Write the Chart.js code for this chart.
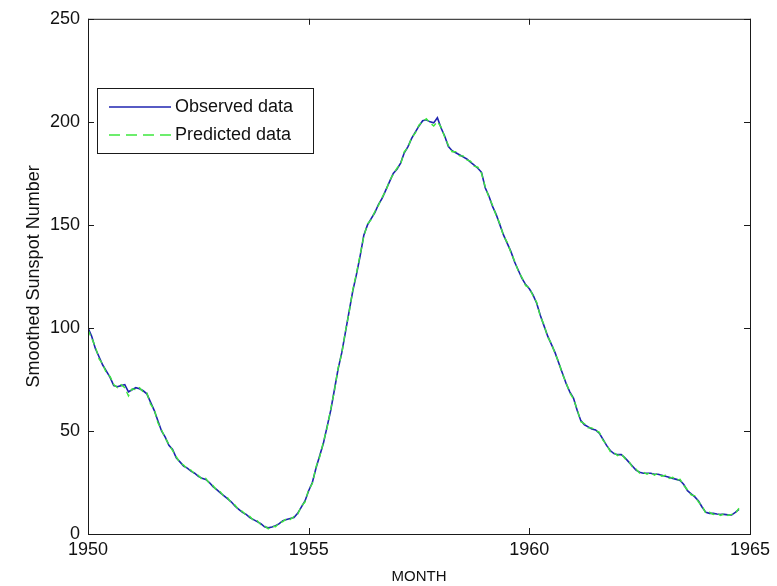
<!DOCTYPE html>
<html>
<head>
<meta charset="utf-8">
<script src="https://cdn.jsdelivr.net/npm/chart.js@4.4.1/dist/chart.umd.min.js"></script>
<style>
  html, body { margin: 0; padding: 0; background: #fff; }
  canvas { display: block; }
</style>
</head>
<body>
<canvas id="sunspotChart" width="777" height="586"></canvas>
<script>
// monthly smoothed sunspot numbers, Jan 1950 .. Oct 1964
const startYear = 1950;
const observed = [
  100, 96, 90, 86, 82, 79, 76, 72, 71.5, 72, 72.5, 69,
  70, 71, 70.5, 69.5, 68, 64, 60, 55, 50, 47, 43, 41,
  37, 35, 33, 32, 30.5, 29.5, 28, 27, 26.5, 25, 23, 21.5,
  20, 18.5, 17, 15.5, 13.5, 12, 10.5, 9.5, 8, 7, 6, 5,
  3.5, 3, 3.4, 4, 5, 6.5, 7, 7.5, 8, 10, 13, 16,
  21, 25, 32, 38, 44, 52, 60, 70, 80, 88, 98, 108,
  118, 126, 135, 145, 150, 153, 156, 160, 163, 167, 171, 175,
  177, 180, 185, 188, 192, 195, 198, 200.5, 201, 200, 199.5, 202,
  197, 193, 188, 186, 185, 184, 183, 182, 180.5, 179, 177.5, 175.5,
  168, 164, 159, 155, 150, 145, 141, 137, 132, 128, 124, 121,
  119, 116, 112, 106, 101, 96, 92, 88, 83, 78, 73, 69,
  66, 60, 55, 53, 52, 51, 50.5, 49, 46, 43, 40.5, 39,
  38.5, 38.5, 37, 35, 33, 31, 30, 29.5, 29.5, 29.5, 29, 29,
  28.5, 28, 27.5, 27, 26.5, 26, 24, 21, 19.5, 18, 16, 13,
  10.5, 10, 10, 9.7, 9.5, 9.5, 9.3, 9.2, 10.5, 12
];
const predicted = [
  99, 95, 91, 85, 82.5, 78, 76.5, 72.5, 71, 72.5, 71, 67,
  70.5, 70, 71, 69, 68.5, 63, 60.5, 54, 50.5, 46.5, 43.5, 40.5,
  37.5, 34.5, 33.5, 31.5, 31, 29, 28.5, 26.5, 27, 24.5, 23.5, 21,
  20.5, 18, 17.5, 15, 14, 11.5, 11, 9, 8.5, 6.5, 6.5, 4.5,
  4, 2.5, 3.8, 3.5, 5.5, 6, 7.5, 7, 8.5, 9.5, 13.5, 15.5,
  21.5, 24.5, 32.5, 37.5, 44.5, 51.5, 60.5, 69.5, 80.5, 87.5, 98.5, 107.5,
  118.5, 126.5, 135.5, 144.5, 150.5, 152.5, 156.5, 159.5, 163.5, 166.5, 171.5, 174.5,
  177.5, 179.5, 185.5, 187.5, 192.5, 194.5, 198.5, 200, 201.5, 199.5, 198, 200,
  197.5, 192.5, 188.5, 185.5, 185.5, 183.5, 183.5, 181.5, 181, 178.5, 178, 175,
  168.5, 163.5, 159.5, 154.5, 150.5, 144.5, 141.5, 136.5, 132.5, 127.5, 124.5, 120.5,
  119.5, 115.5, 112.5, 105.5, 101.5, 95.5, 92.5, 87.5, 83.5, 77.5, 73.5, 68.5,
  65.5, 60.5, 54.5, 53.5, 51.5, 51.5, 50, 49.5, 45.5, 43.5, 40, 39.5,
  38, 39, 36.5, 35.5, 32.5, 31.5, 29.5, 30, 29, 30, 28.5, 29.5,
  28, 28.5, 27, 27.5, 26, 26.5, 23.5, 21.5, 19, 18.5, 15.5, 13.5,
  10, 10.5, 9.5, 10, 9, 10, 9, 9.5, 10, 12.5
];
const xTicks = [1950, 1955, 1960, 1965];
const yTicks = [0, 50, 100, 150, 200, 250];
const seriesNames = ["Observed data", "Predicted data"];

const FONT = "'Liberation Sans', Arial, sans-serif";
const BLUE = "#1f24b0";
const GREEN = "#3ee83e";

const toPoints = (vals) => vals.map((v, i) => ({ x: startYear + i / 12, y: v }));

// MATLAB-like box with inward ticks on all four sides
const boxPlugin = {
  id: "box",
  afterDraw(chart) {
    const { ctx, chartArea: a, scales } = chart;
    ctx.save();
    ctx.strokeStyle = "#1a1a1a";
    ctx.lineWidth = 1;
    ctx.strokeRect(a.left + 0.5, a.top + 0.5, a.right - a.left, a.bottom - a.top);
    ctx.beginPath();
    const t = 6;
    xTicks.forEach((v) => {
      const px = Math.round(scales.x.getPixelForValue(v)) + 0.5;
      ctx.moveTo(px, a.bottom); ctx.lineTo(px, a.bottom - t);
      ctx.moveTo(px, a.top); ctx.lineTo(px, a.top + t);
    });
    yTicks.forEach((v) => {
      const py = Math.round(scales.y.getPixelForValue(v)) + 0.5;
      ctx.moveTo(a.left, py); ctx.lineTo(a.left + t, py);
      ctx.moveTo(a.right, py); ctx.lineTo(a.right - t, py);
    });
    ctx.stroke();
    ctx.restore();
  },
};

const legendPlugin = {
  id: "boxLegend",
  afterDraw(chart) {
    const { ctx } = chart;
    const x = 97, y = 88, w = 216, h = 65;
    ctx.save();
    ctx.fillStyle = "#fff";
    ctx.fillRect(x, y, w, h);
    ctx.strokeStyle = "#1a1a1a";
    ctx.lineWidth = 1;
    ctx.strokeRect(x + 0.5, y + 0.5, w, h);
    const rows = [
      { y: 107, color: BLUE, dash: [] },
      { y: 135, color: GREEN, dash: [11, 6] },
    ];
    ctx.font = "18px " + FONT;
    ctx.textBaseline = "middle";
    rows.forEach((r, i) => {
      ctx.strokeStyle = r.color;
      ctx.lineWidth = 1.6;
      ctx.setLineDash(r.dash);
      ctx.beginPath();
      ctx.moveTo(109, r.y);
      ctx.lineTo(171, r.y);
      ctx.stroke();
      ctx.setLineDash([]);
      ctx.fillStyle = "#111";
      ctx.fillText(seriesNames[i], 175, r.y + 0.5);
    });
    ctx.restore();
  },
};

new Chart(document.getElementById("sunspotChart"), {
  type: "line",
  data: {
    datasets: [
      {
        label: seriesNames[0],
        data: toPoints(observed),
        borderColor: BLUE,
        borderWidth: 1.6,
        pointRadius: 0,
        tension: 0,
        order: 2,
      },
      {
        label: seriesNames[1],
        data: toPoints(predicted),
        borderColor: GREEN,
        borderWidth: 1.4,
        borderDash: [6, 4],
        pointRadius: 0,
        tension: 0,
        order: 1,
      },
    ],
  },
  options: {
    responsive: false,
    animation: false,
    devicePixelRatio: 1,
    layout: { padding: { top: 16, right: 27, bottom: 0, left: 0 } },
    plugins: {
      legend: { display: false },
      tooltip: { enabled: false },
    },
    scales: {
      x: {
        type: "linear",
        min: 1950,
        max: 1965,
        afterFit: (s) => { s.height = 52; },
        afterBuildTicks: (s) => { s.ticks = xTicks.map((v) => ({ value: v })); },
        grid: { display: false, drawTicks: false },
        border: { display: false },
        ticks: {
          padding: 5,
          color: "#111",
          font: { family: FONT, size: 18 },
          maxRotation: 0,
          callback: (v) => String(v),
        },
        title: {
          display: true,
          text: "MONTH",
          color: "#111",
          font: { family: FONT, size: 15 },
          padding: { top: 0, bottom: 0 },
        },
      },
      y: {
        min: 0,
        max: 250,
        afterFit: (s) => { s.width = 88; },
        afterBuildTicks: (s) => { s.ticks = yTicks.map((v) => ({ value: v })); },
        grid: { display: false, drawTicks: false },
        border: { display: false },
        ticks: {
          padding: 8,
          color: "#111",
          font: { family: FONT, size: 18 },
        },
        title: {
          display: true,
          text: "Smoothed Sunspot Number",
          color: "#111",
          font: { family: FONT, size: 18 },
          padding: { top: 23, bottom: 0 },
        },
      },
    },
  },
  plugins: [boxPlugin, legendPlugin],
});
</script>
</body>
</html>
